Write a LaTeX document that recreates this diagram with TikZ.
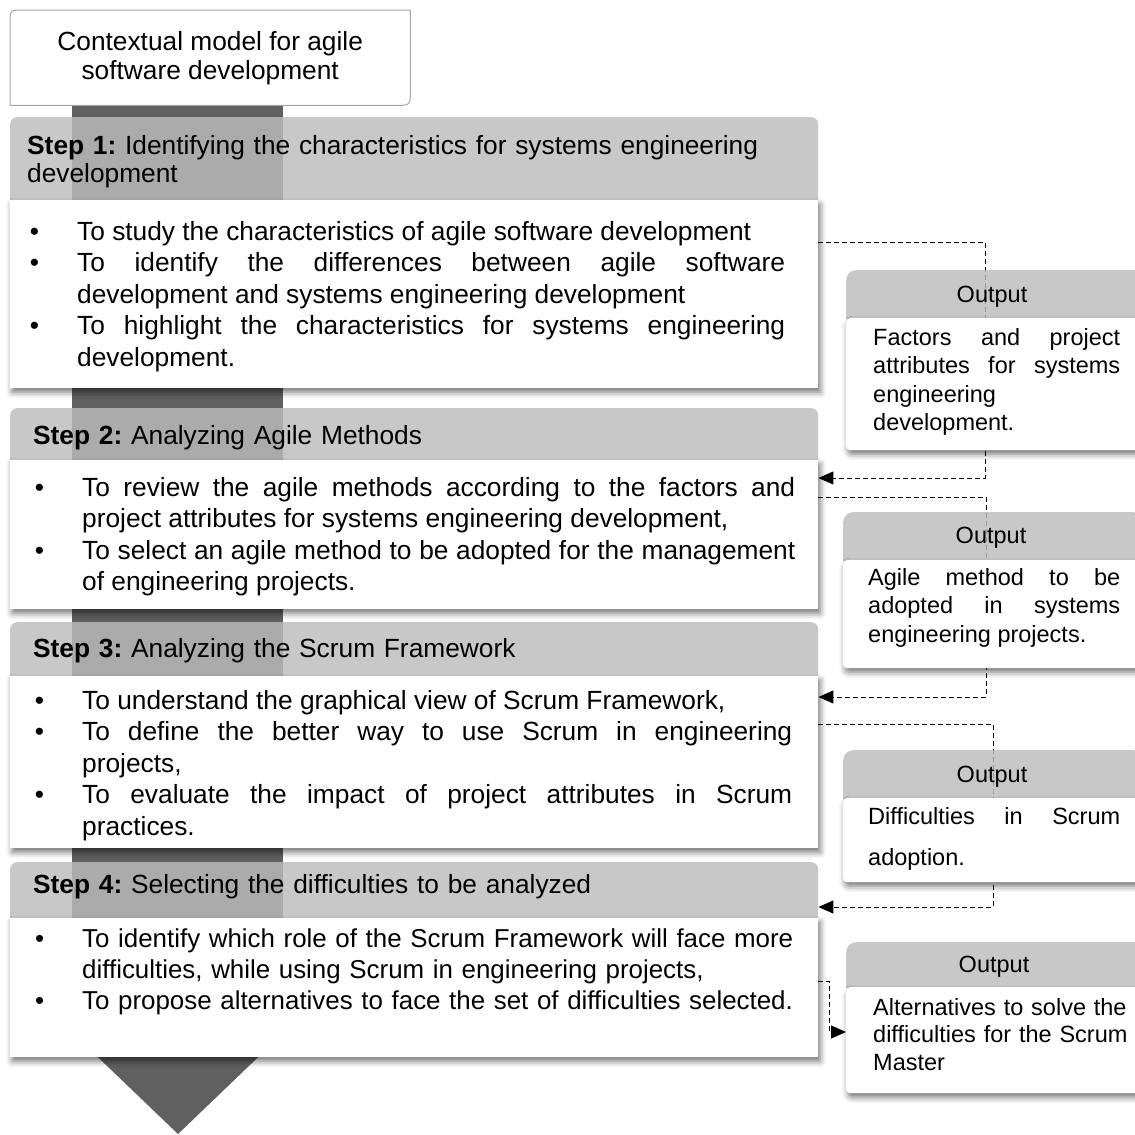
\documentclass[tikz,border=0pt]{standalone}
\usepackage{fontspec}
\setmainfont{Liberation Sans}
\usetikzlibrary{arrows.meta,shadows.blur}
\definecolor{shaftc}{HTML}{606060}
\definecolor{headc}{HTML}{BCBCBC}
\definecolor{ctxline}{HTML}{A6A6A6}
\newcommand{\bitem}[1]{\noindent\llap{\textbullet\hspace{38pt}}#1\par}
\frenchspacing
\hyphenpenalty=10000
\exhyphenpenalty=10000
\tikzset{
  headbox/.style={fill=headc, fill opacity=0.82, draw=none, rounded corners=7pt, anchor=north west, inner sep=0pt},
  bodybox/.style={fill=white, draw=none, anchor=north west, inner sep=0pt,
     blur shadow={shadow xshift=2pt, shadow yshift=-4pt, shadow blur radius=6pt, shadow opacity=55}},
  outbody/.style={bodybox, rounded corners=4pt},
  headtext/.style={anchor=base west, inner sep=0pt, align=left, text width=785pt, font=\fontsize{26.3}{28}\selectfont},
  bodytext/.style={anchor=base west, inner sep=0pt, align=justify, font=\fontsize{26.3}{31.6}\selectfont},
  outhead/.style={anchor=base, inner sep=0pt, font=\fontsize{23.5}{28}\selectfont},
  outtext/.style={anchor=base west, inner sep=0pt, align=justify, font=\fontsize{23.5}{28.5}\selectfont},
  conn/.style={line width=1pt, dash pattern=on 5pt off 3pt},
  conntip/.style={conn, -{Triangle[length=15pt,width=13pt]}}
}
\begin{document}
\begin{tikzpicture}[x=1pt,y=-1pt]
\useasboundingbox (0,0) rectangle (1135,1135);
% shaft and arrow head
\fill[shaftc] (72,105) rectangle (283,1045);
\fill[shaftc] (80,1040) -- (276,1040) -- (178,1134) -- cycle;

% top box
\node[anchor=north west, minimum width=400pt, minimum height=95pt, inner sep=0pt] (ctx) at (10,10) {};
\draw[ctxline, line width=1pt, fill=white]
  (ctx.south west) -- ([yshift=-13pt]ctx.north west)
  .. controls (ctx.north west) .. ([xshift=13pt]ctx.north west)
  -- (ctx.north east) -- ([yshift=15pt]ctx.south east)
  .. controls (ctx.south east) .. ([xshift=-15pt]ctx.south east) -- cycle;
\node[align=center, inner sep=0pt, font=\fontsize{26.3}{29}\selectfont] (ctxt) at (ctx.center)
      {Contextual model for agile\\software development};

% Step 1
\node[headbox, minimum width=808pt, minimum height=93pt] (s1h) at (10,117) {};
\node[bodybox, minimum width=808pt, minimum height=188pt] (s1b) at (10,200) {};
\node[headtext] (s1ht) at (27,154) {\textbf{Step 1:} Identifying the characteristics for systems engineering\\development};
\node[bodytext, text width=708pt] (s1t) at (77,240) {%
\bitem{To study the characteristics of agile software development}%
\bitem{To identify the differences between agile software\linebreak development and systems engineering development}%
\bitem{To highlight the characteristics for systems engineering\linebreak development.}};

% Step 2
\node[headbox, minimum width=808pt, minimum height=62pt] (s2h) at (10,408) {};
\node[bodybox, minimum width=808pt, minimum height=149pt] (s2b) at (10,460) {};
\node[headtext] (s2ht) at (33,444) {\textbf{Step 2:} Analyzing Agile Methods};
\node[bodytext, text width=713pt] (s2t) at (82,496) {%
\bitem{To review the agile methods according to the factors and\linebreak project attributes for systems engineering development,}%
\bitem{To select an agile method to be adopted for the management\linebreak of engineering projects.}};

% Step 3
\node[headbox, minimum width=808pt, minimum height=64pt] (s3h) at (10,622) {};
\node[bodybox, minimum width=808pt, minimum height=172pt] (s3b) at (10,676) {};
\node[headtext] (s3ht) at (33,657) {\textbf{Step 3:} Analyzing the Scrum Framework};
\node[bodytext, text width=710pt] (s3t) at (82,709) {%
\bitem{To understand the graphical view of Scrum Framework,}%
\bitem{To define the better way to use Scrum in engineering\linebreak projects,}%
\bitem{To evaluate the impact of project attributes in Scrum\linebreak practices.}};

% Step 4
\node[headbox, minimum width=808pt, minimum height=66pt] (s4h) at (10,862) {};
\node[bodybox, minimum width=808pt, minimum height=139pt] (s4b) at (10,918) {};
\node[headtext] (s4ht) at (33,893) {\textbf{Step 4:} Selecting the difficulties to be analyzed};
\node[bodytext, text width=730pt, align=left, font=\fontsize{25.9}{31.3}\selectfont] (s4t) at (82,947) {%
\bitem{To identify which role of the Scrum Framework will face more\newline difficulties, while using Scrum in engineering projects,}%
\bitem{To propose alternatives to face the set of difficulties selected.}};

% connectors
\coordinate (k1a) at (985,242);
\coordinate (k1b) at (985,478);
\coordinate (k2a) at (986,497);
\coordinate (k2b) at (986,697);
\coordinate (k3a) at (993,724);
\coordinate (k3b) at (993,907);
\coordinate (k4a) at (829,981);
\coordinate (k4b) at (829,1032);
\draw[conntip] (s1b.east |- k1a) -- (k1a) -- (k1b) -- (s2b.east |- k1b);
\draw[conntip] (s2b.east |- k2a) -- (k2a) -- (k2b) -- (s3b.east |- k2b);
\draw[conntip] (s3b.east |- k3a) -- (k3a) -- (k3b) -- (s4h.east |- k3b);

% Output 1
\node[headbox, rounded corners=10pt, minimum width=300pt, minimum height=58pt] (o1h) at (846,270) {};
\node[outbody, minimum width=300pt, minimum height=132pt] (o1b) at (846,318) {};
\node[outhead] (o1ht) at (992,302) {Output};
\node[outtext, text width=247pt] (o1t) at (873,345) {Factors and project\linebreak attributes for systems\linebreak engineering\newline development.};

% Output 2
\node[headbox, rounded corners=10pt, minimum width=300pt, minimum height=58pt] (o2h) at (843,512) {};
\node[outbody, minimum width=300pt, minimum height=108pt] (o2b) at (843,560) {};
\node[outhead] (o2ht) at (991,543) {Output};
\node[outtext, text width=252pt] (o2t) at (868,585) {Agile method to be\linebreak adopted in systems\linebreak engineering projects.};

% Output 3
\node[headbox, rounded corners=10pt, minimum width=300pt, minimum height=58pt] (o3h) at (843,750) {};
\node[outbody, minimum width=300pt, minimum height=84pt] (o3b) at (843,798) {};
\node[outhead] (o3ht) at (992,782) {Output};
\node[outtext, text width=252pt, font=\fontsize{23.5}{41}\selectfont] (o3t) at (868,824) {Difficulties in Scrum\linebreak adoption.};

% Output 4
\node[headbox, rounded corners=10pt, minimum width=300pt, minimum height=55pt] (o4h) at (846,942) {};
\node[outbody, minimum width=300pt, minimum height=106pt] (o4b) at (846,987) {};
\node[outhead] (o4ht) at (994,972) {Output};
\node[outtext, text width=260pt, align=left, font=\fontsize{23.5}{27.5}\selectfont] (o4t) at (873,1015) {Alternatives to solve the\\difficulties for the Scrum\\Master};

\draw[conntip] (s4b.east |- k4a) -- (k4a) -- (k4b) -- (o4b.west |- k4b);
\end{tikzpicture}
\end{document}
